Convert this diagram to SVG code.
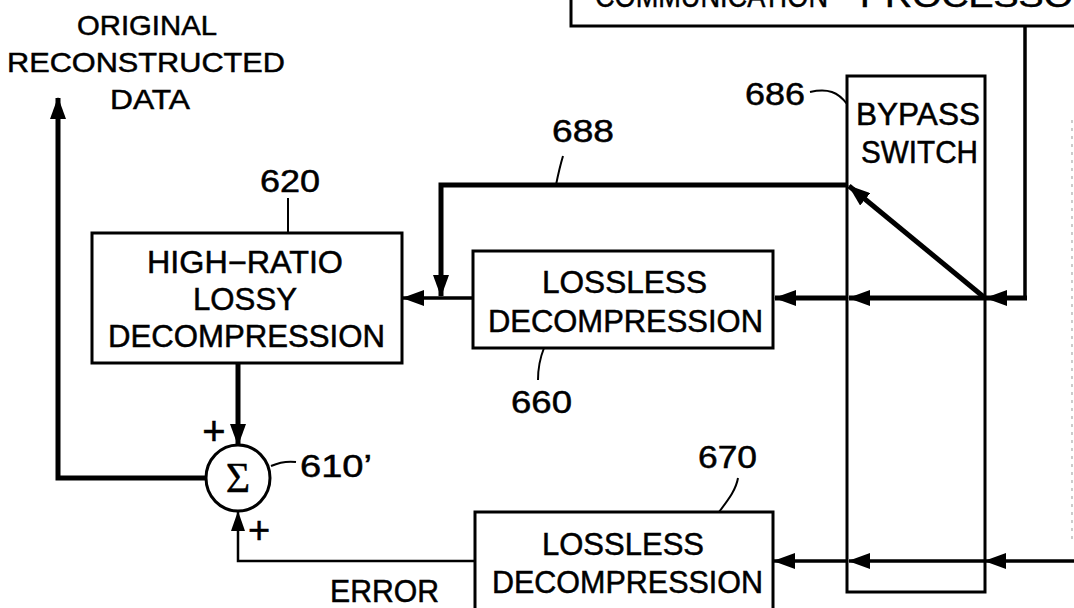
<svg xmlns="http://www.w3.org/2000/svg" width="1074" height="608" viewBox="0 0 1074 608">
<defs>
<marker id="ah" viewBox="0 0 22 16" refX="21" refY="8" markerWidth="22" markerHeight="16" markerUnits="userSpaceOnUse" orient="auto">
<path d="M0,0 L22,8 L0,16 z" fill="#000"/>
</marker>
<marker id="ahs" viewBox="0 0 20 14" refX="19" refY="7" markerWidth="20" markerHeight="14" markerUnits="userSpaceOnUse" orient="auto">
<path d="M0,0 L20,7 L0,14 z" fill="#000"/>
</marker>
</defs>
<style>
text{font-family:"Liberation Sans",Arial,sans-serif;fill:#000;stroke:#000;stroke-width:0.5}
.t{font-size:31px}
.s{font-size:28px}
.box{fill:#fff;stroke:#000;stroke-width:3}
.thick{fill:none;stroke:#000;stroke-width:5}
.med{fill:none;stroke:#000;stroke-width:3.5}
.thin{fill:none;stroke:#000;stroke-width:2.5}
.lead{fill:none;stroke:#000;stroke-width:2}
</style>
<rect width="1074" height="608" fill="#fff"/>

<g id="labels-top">
<text class="s" x="77" y="35" textLength="140" lengthAdjust="spacingAndGlyphs">ORIGINAL</text>
<text class="s" x="7" y="72" textLength="278" lengthAdjust="spacingAndGlyphs">RECONSTRUCTED</text>
<text class="s" x="110" y="109" textLength="80" lengthAdjust="spacingAndGlyphs">DATA</text>
</g>

<g id="comm-processor">
<rect class="box" x="571" y="-20" width="520" height="46"/>
<text class="t" x="595" y="7" textLength="233" lengthAdjust="spacingAndGlyphs">COMMUNICATION</text>
<text class="t" x="860" y="7" textLength="240" lengthAdjust="spacingAndGlyphs">PROCESSOR</text>
</g>

<g id="bypass-switch">
<rect class="box" x="847" y="76" width="138" height="516"/>
<text class="t" x="856" y="125" textLength="124" lengthAdjust="spacingAndGlyphs">BYPASS</text>
<text class="t" x="861" y="163" textLength="117" lengthAdjust="spacingAndGlyphs">SWITCH</text>
<text class="t" x="745" y="105" textLength="60" lengthAdjust="spacingAndGlyphs">686</text>
<path class="lead" d="M810,92 C828,88 838,92 847,104"/>
</g>

<g id="lossy-620">
<rect class="box" x="92" y="233" width="310" height="130"/>
<text class="t" x="147" y="273" textLength="196" lengthAdjust="spacingAndGlyphs">HIGH−RATIO</text>
<text class="t" x="193" y="310" textLength="104" lengthAdjust="spacingAndGlyphs">LOSSY</text>
<text class="t" x="108" y="347" textLength="277" lengthAdjust="spacingAndGlyphs">DECOMPRESSION</text>
<text class="t" x="260" y="192" textLength="60" lengthAdjust="spacingAndGlyphs">620</text>
<path class="lead" d="M288,198 V233"/>
</g>

<g id="lossless-660">
<rect class="box" x="473" y="251" width="300" height="97"/>
<text class="t" x="542" y="293" textLength="165" lengthAdjust="spacingAndGlyphs">LOSSLESS</text>
<text class="t" x="488" y="332" textLength="275" lengthAdjust="spacingAndGlyphs">DECOMPRESSION</text>
<text class="t" x="511" y="413" textLength="61" lengthAdjust="spacingAndGlyphs">660</text>
<path class="lead" d="M544,348 C540,358 538,368 538,380"/>
</g>

<g id="lossless-670">
<rect class="box" x="475" y="512" width="298" height="120"/>
<text class="t" x="542" y="555" textLength="162" lengthAdjust="spacingAndGlyphs">LOSSLESS</text>
<text class="t" x="492" y="593" textLength="271" lengthAdjust="spacingAndGlyphs">DECOMPRESSION</text>
<text class="t" x="698" y="468" textLength="59" lengthAdjust="spacingAndGlyphs">670</text>
<path class="lead" d="M719,512 C728,500 736,490 738,478"/>
</g>

<g id="sum-610">
<ellipse cx="238" cy="478" rx="32" ry="33" fill="#fff" stroke="#000" stroke-width="3"/>
<text x="238" y="492" text-anchor="middle" style="font-family:'Liberation Serif','Times New Roman',serif;font-size:42px;stroke-width:0.3">Σ</text>
<text class="t" x="300" y="477" textLength="72" lengthAdjust="spacingAndGlyphs">610’</text>
<path class="lead" d="M271,466 C280,462 288,461 296,462"/>
<text x="214" y="445" text-anchor="middle" style="font-size:40px">+</text>
<text x="259" y="543" text-anchor="middle" style="font-size:38px">+</text>
</g>

<g id="error-label">
<text class="t" x="330" y="602" textLength="109" lengthAdjust="spacingAndGlyphs">ERROR</text>
</g>

<g id="connectors">
<path class="med" d="M1025,26 V298"/>
<path class="thick" d="M1027,298 H986" marker-end="url(#ah)"/>
<path class="thick" d="M985,298 H849" marker-end="url(#ah)"/>
<path class="thick" d="M847,298 H775" marker-end="url(#ah)"/>
<path class="med" d="M473,298 H403" marker-end="url(#ah)"/>
<path class="thick" d="M985,298 L849,186" marker-end="url(#ah)"/>
<path class="thick" d="M848,185 H441 V296" stroke-width="4" marker-end="url(#ah)"/>
<text class="t" x="552" y="142" textLength="62" lengthAdjust="spacingAndGlyphs">688</text>
<path class="lead" d="M556,185 C558,175 560,166 563,156"/>
<path class="thick" d="M238,363 V445" marker-end="url(#ah)"/>
<path class="thick" d="M206,478 H58 V98" marker-end="url(#ah)"/>
<path class="thin" d="M475,561 H238 V512" marker-end="url(#ahs)"/>
<path class="med" d="M1074,561 H985" marker-end="url(#ah)"/>
<path class="med" d="M985,561 H849" marker-end="url(#ah)"/>
<path class="med" d="M847,561 H774" marker-end="url(#ah)"/>
</g>

<g id="edge">
<path d="M1072,120 V540" stroke="#aaa" stroke-width="1.2" stroke-dasharray="3 5" fill="none"/>
</g>
</svg>
